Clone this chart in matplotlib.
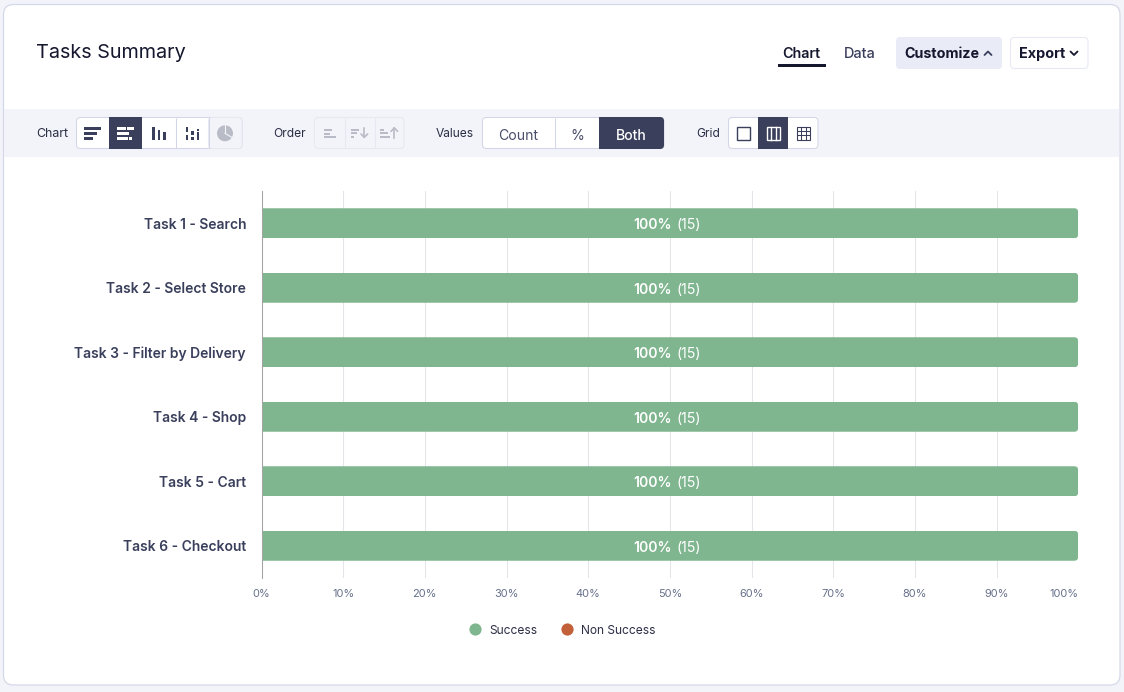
import matplotlib
matplotlib.use("Agg")
import matplotlib.pyplot as plt
from matplotlib.patches import FancyBboxPatch, Rectangle, Circle
from matplotlib.lines import Line2D
import numpy as np

plt.rcParams['font.family'] = ['Inter', 'DejaVu Sans']

tasks = ["Task 1 - Search", "Task 2 - Select Store", "Task 3 - Filter by Delivery",
         "Task 4 - Shop", "Task 5 - Cart", "Task 6 - Checkout"]
success_pct = [100, 100, 100, 100, 100, 100]
non_success_pct = [0, 0, 0, 0, 0, 0]
counts = [15, 15, 15, 15, 15, 15]
x_ticks = [0, 10, 20, 30, 40, 50, 60, 70, 80, 90, 100]
series_names = ["Success", "Non Success"]

GREEN = "#7fb68f"
RED = "#c2603a"
DARK = "#3a3f5c"
INK = "#14172e"
LINE = "#d3d6e6"
BAND = "#f2f4f9"
GREY = "#b9bcc6"

W, H = 1124, 692
fig = plt.figure(figsize=(W / 100, H / 100), dpi=100, facecolor="#f3f4fa")


def px(size):
    return size * 72 / 100


# page furniture, in pixels
# --------------------------------------------------
ui = fig.add_axes([0, 0, 1, 1], zorder=0)
ui.set_xlim(0, W)
ui.set_ylim(H, 0)
ui.axis("off")


def box(x0, y0, x1, y1, fc="white", ec=LINE, r=4, lw=0.75, z=2):
    p = FancyBboxPatch((x0, y0), x1 - x0, y1 - y0, boxstyle=f"round,pad=0,rounding_size={r}",
                       fc=fc, ec=ec, lw=lw, zorder=z)
    ui.add_patch(p)
    return p


def rect(x0, y0, x1, y1, fc, z=3):
    ui.add_patch(Rectangle((x0, y0), x1 - x0, y1 - y0, fc=fc, ec="none", zorder=z))


def vline(x, y0, y1, color=LINE, z=3):
    ui.plot([x, x], [y0, y1], color=color, lw=0.75, zorder=z, solid_capstyle="butt")


def label(x, y, s, size=12, color=DARK, weight="normal", ha="center"):
    ui.text(x, y, s, fontsize=px(size), color=color, fontweight=weight, ha=ha, va="center_baseline", zorder=6)


def chevron(xs, ys, color, lw=1.3):
    ui.plot(xs, ys, color=color, lw=lw, zorder=6, solid_capstyle="round")


box(3.5, 4.5, 1120, 685, fc="white", ec="#d5d8e8", r=10, lw=0.9, z=1)
rect(4.2, 109, 1119.4, 157, BAND, z=1.5)

ui.text(36, 51, "Tasks Summary", fontsize=px(19.8), color=INK, ha="left", va="center_baseline", zorder=6)

label(801, 53, "Chart", 14.3, INK, "semibold")
rect(778, 64, 826, 67, INK)
label(860, 53, "Data", 14.5, DARK, "medium")
box(896, 37, 1002, 69, fc="#e9ebf6", ec="none")
label(904, 53, "Customize", 14.3, INK, "bold", ha="left")
chevron([984.5, 988, 991.5], [55, 51.5, 55], DARK)
box(1010.5, 37.5, 1088, 68.5, fc="white", ec="#e6e8f3")
label(1019, 52.5, "Export", 14.4, INK, "bold", ha="left")
chevron([1070.5, 1074, 1077.5], [51.5, 55, 51.5], INK)

# toolbar: Chart
label(52, 132.5, "Chart", 12.4, "#2b2e45")
box(76.5, 117.5, 242, 148.5)
box(208.5, 117.5, 242, 148.5, fc="#f2f4f9", ec="#e6e8f2")
rect(109, 117, 142, 149, DARK)
vline(175.5, 118, 148)
vline(208.5, 118, 148)
for y, x1 in [(127, 101), (132.3, 96.7), (137.3, 92.7)]:
    rect(84.3, y, x1, y + 2.5, DARK, z=5)
for y, segs in [(127, [(117.3, 126), (127, 134)]),
                (132.3, [(117.3, 128.5)]),
                (137.3, [(117.3, 127.7), (129, 131.7)])]:
    for x0, x1 in segs:
        rect(x0, y, x1, y + 2.5, "white", z=5)
for x0, top in [(152.3, 127), (157.7, 130.3), (163.3, 132.3)]:
    rect(x0, top, x0 + 2.5, 139.8, DARK, z=5)
for x0, parts in [(185.7, [(127, 132.3), (134.7, 139.8)]),
                  (191, [(131.3, 134.7), (137.3, 139.8)]),
                  (196.7, [(128.7, 130.7), (132.3, 139.8)])]:
    for a, b in parts:
        rect(x0, a, x0 + 2.5, b, DARK, z=5)
ui.add_patch(Circle((225, 133.3), 8, fc=GREY, ec="none", zorder=5))
ui.plot([225, 225], [125, 133.3], color="#f2f4f9", lw=0.8, zorder=5.1)
ui.plot([225, 232], [133.3, 137.5], color="#f2f4f9", lw=0.8, zorder=5.1)

# toolbar: Order
label(290, 132.5, "Order", 12, "#2b2e45")
box(314.5, 117.5, 404, 148.5, fc="#f2f4f9", ec="#e6e8f2")
vline(344.5, 118, 148, "#e6e8f2")
vline(374.5, 118, 148, "#e6e8f2")
for y, x1 in [(128.7, 331.7), (133, 330), (136.3, 335.7)]:
    rect(324.3, y, x1, y + 2, GREY, z=5)
for y, x1 in [(128.7, 359), (132.3, 357), (135.7, 354.3)]:
    rect(351, y, x1, y + 2, GREY, z=5)
ui.plot([364.3, 364.3], [128, 137], color=GREY, lw=1.2, zorder=5)
chevron([361, 364.3, 367.6], [134, 137.3, 134], GREY, 1.2)
for y, x1 in [(128.7, 384.3), (132.3, 388.3), (136.3, 390)]:
    rect(380.3, y, x1, y + 2, GREY, z=5)
ui.plot([394.3, 394.3], [128.3, 137.5], color=GREY, lw=1.2, zorder=5)
chevron([391, 394.3, 397.6], [131.3, 128, 131.3], GREY, 1.2)

# toolbar: Values
label(455, 132.5, "Values", 12, "#2b2e45")
box(482.5, 117.5, 664, 148.5)
box(599, 117, 664, 149, fc=DARK, ec="none", z=3)
rect(599, 117, 606, 149, DARK)
vline(554.5, 118, 148)
label(518.5, 134, "Count", 14, "#4a4f6a")
label(577, 134, "%", 14, "#4a4f6a")
label(631, 134, "Both", 14, "white", "medium")

# toolbar: Grid
label(708, 132.5, "Grid", 12, "#2b2e45")
box(728.5, 117.5, 818, 148.5)
rect(758, 117, 788, 149, DARK)
ui.add_patch(Rectangle((737, 126.5), 13, 13, fc="none", ec=DARK, lw=1.0, zorder=5))
ui.add_patch(Rectangle((767, 126.5), 13, 13, fc="none", ec="white", lw=1.0, zorder=5))
for x in [771.3, 775.6]:
    ui.plot([x, x], [126.5, 139.5], color="white", lw=1.0, zorder=5)
ui.add_patch(Rectangle((797, 126.5), 13, 13, fc="none", ec=DARK, lw=0.8, zorder=5))
for d in [4.3, 8.6]:
    ui.plot([797 + d, 797 + d], [126.5, 139.5], color=DARK, lw=0.75, zorder=5)
    ui.plot([797, 810], [126.5 + d, 126.5 + d], color=DARK, lw=0.75, zorder=5)

# chart
# --------------------------------------------------
ax = fig.add_axes([261.5 / W, 1 - 578 / H, (1078.2 - 261.5) / W, (578 - 191) / H], zorder=2)
ax.patch.set_alpha(0)
y_pos = np.arange(len(tasks))
bars = ax.barh(y_pos, success_pct, height=0.465, color=GREEN, zorder=3, label=series_names[0])
ax.barh(y_pos, non_success_pct, left=success_pct, height=0.465, color=RED, zorder=3, label=series_names[1])
ax.set_xlim(0, 100)
ax.set_ylim(5.5, -0.5)

ax.set_xticks(x_ticks)
ax.set_xticklabels([f"{v}%" for v in x_ticks], fontsize=px(11), color="#66708a")
ax.get_xticklabels()[-1].set_ha("right")
ax.set_yticks(y_pos)
ax.set_yticklabels(tasks, fontsize=px(13.9), color=DARK, fontweight="semibold")
ax.tick_params(axis="x", length=0, pad=8)
ax.tick_params(axis="y", length=0, pad=15.5 * 72 / 100)
ax.grid(axis="x", color="#e4e5e8", lw=0.75, zorder=0)
ax.set_axisbelow(True)
for s in ["top", "right", "bottom"]:
    ax.spines[s].set_visible(False)
ax.spines["left"].set_color("#a3a3a3")
ax.spines["left"].set_linewidth(0.75)
ax.spines["left"].set_zorder(5)

# round the right end of each bar only, the left end runs past the clip box
fig.canvas.draw()
for b in bars:
    e = b.get_window_extent()
    clip = FancyBboxPatch((e.x0 - 8, e.y0), e.width + 8, e.height, boxstyle="round,pad=0,rounding_size=4",
                          transform=None, fc="none", ec="none")
    b.set_clip_path(clip)

for i, (p, c) in enumerate(zip(success_pct, counts)):
    mid = p / 2
    ax.annotate(f"{p}%", (mid, i), xytext=(2.2 * 0.72, -0.5), textcoords="offset points", ha="right", va="center_baseline",
                color="white", fontsize=px(14), fontweight="semibold", zorder=6)
    ax.annotate(f"({c})", (mid, i), xytext=(7 * 0.72, -0.5), textcoords="offset points", ha="left", va="center_baseline",
                color="white", fontsize=px(14.2), zorder=6)

handles = [Line2D([], [], ls="", marker="o", ms=8.8, mfc=GREEN, mec="none"),
           Line2D([], [], ls="", marker="o", ms=8.8, mfc=RED, mec="none")]
fig.legend(handles, series_names, loc="center", bbox_to_anchor=(559.5 / W, 1 - 630.5 / H), ncol=2, frameon=False,
           fontsize=px(12), labelcolor="#2b2e45", handletextpad=0.2, columnspacing=1.45)

fig.savefig("out.png", dpi=100, facecolor=fig.get_facecolor())
